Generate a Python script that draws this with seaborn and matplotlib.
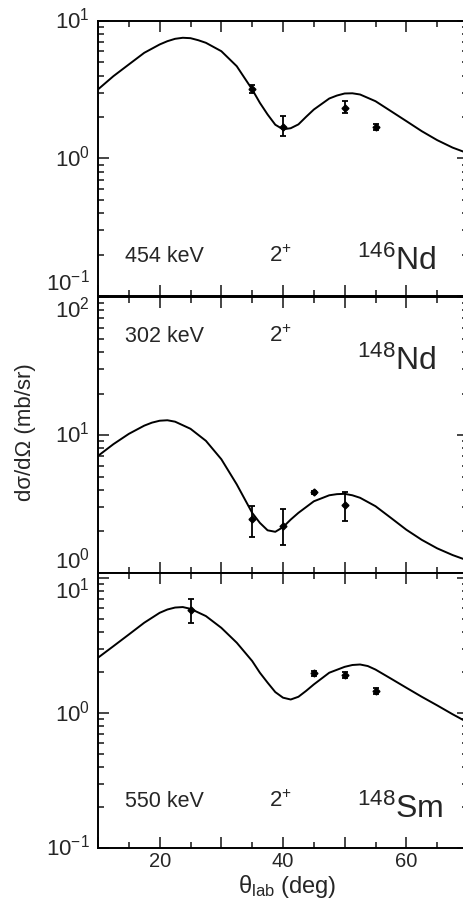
import numpy as np
import pandas as pd
import seaborn as sns
import matplotlib
matplotlib.use("Agg")
from matplotlib import pyplot as plt
from matplotlib.ticker import LogLocator, MultipleLocator, NullFormatter, FuncFormatter

### data ###
# theoretical curves (deg, mb/sr)
nd146_ct = [10, 12.5, 15, 17.5, 20, 21.25, 22.5, 23.75, 25, 26.25, 27.5, 30, 32.5, 33.75, 35,
            36.25, 37.5, 38.75, 40, 41.25, 42.5, 43.75, 45, 47.5, 48.75, 50, 51.25, 52.5,
            55, 57.5, 60, 62.5, 65, 67.5, 70]
nd146_cv = [3.18, 3.97, 4.83, 5.87, 6.75, 7.13, 7.42, 7.55, 7.50, 7.25, 6.94, 6.03, 4.69, 3.86, 3.18,
            2.54, 2.09, 1.76, 1.63, 1.66, 1.77, 2.01, 2.27, 2.73, 2.87, 2.97, 2.98, 2.92,
            2.61, 2.21, 1.87, 1.58, 1.36, 1.20, 1.09]

nd148_ct = [10, 12.5, 15, 17.5, 18.75, 20, 21.25, 22.5, 25, 27.5, 30, 32.5, 35, 36.25,
            37.5, 38.75, 40, 41.25, 42.5, 45, 47.5, 48.75, 50, 51.25, 52.5, 55, 57.5,
            60, 62.5, 65, 67.5, 70]
nd148_cv = [7.06, 8.59, 10.2, 11.7, 12.3, 12.7, 12.8, 12.5, 11.1, 9.08, 6.68, 4.39, 2.73, 2.31,
            2.04, 1.99, 2.15, 2.44, 2.73, 3.31, 3.66, 3.73, 3.75, 3.66, 3.51, 3.05, 2.51,
            2.06, 1.74, 1.51, 1.35, 1.23]

sm148_ct = [10, 12.5, 15, 17.5, 20, 21.25, 22.5, 23.75, 25, 27.5, 30, 32.5, 35, 36.25,
            37.5, 38.75, 40, 41.25, 42.5, 43.75, 45, 47.5, 50, 51.25, 52.5, 53.75, 55,
            57.5, 60, 62.5, 65, 67.5, 70]
sm148_cv = [2.57, 3.13, 3.82, 4.67, 5.53, 5.85, 6.05, 6.10, 5.92, 5.23, 4.28, 3.32, 2.43, 1.99,
            1.68, 1.43, 1.30, 1.26, 1.32, 1.46, 1.63, 1.99, 2.20, 2.27, 2.29, 2.23, 2.10,
            1.80, 1.54, 1.32, 1.14, 0.98, 0.85]

# measured points with error bars
nd146_theta = [35, 40, 50, 55]
nd146_val = [3.18, 1.70, 2.34, 1.70]
nd146_lo = [2.97, 1.45, 2.15, 1.61]
nd146_hi = [3.41, 2.03, 2.61, 1.77]

nd148_theta = [35, 40, 45, 50]
nd148_val = [2.48, 2.20, 3.86, 3.13]
nd148_lo = [1.82, 1.60, 3.76, 2.37]
nd148_hi = [3.08, 2.92, 3.96, 3.86]

sm148_theta = [25, 45, 50, 55]
sm148_val = [5.79, 1.97, 1.91, 1.46]
sm148_lo = [4.67, 1.88, 1.82, 1.38]
sm148_hi = [7.03, 2.05, 2.00, 1.54]

panels = [
    dict(ct=nd146_ct, cv=nd146_cv, theta=nd146_theta, val=nd146_val, lo=nd146_lo, hi=nd146_hi,
         ylim=(0.1, 10), energy="454 keV", nucleus="146", symbol="Nd",
         text_y=0.124, nuc_y=0.095, ticks=[0.1, 1, 10],
         labels=[r"$\mathregular{10^{-1}}$", r"$\mathregular{10^{0}}$", r"$\mathregular{10^{1}}$"],
         va=["bottom", "center", "center"],
         box=(0.6715, 0.3052)),
    dict(ct=nd148_ct, cv=nd148_cv, theta=nd148_theta, val=nd148_val, lo=nd148_lo, hi=nd148_hi,
         ylim=(1, 100), energy="302 keV", nucleus="148", symbol="Nd",
         text_y=0.838, nuc_y=0.7355, ticks=[1, 10, 100],
         labels=[r"$\mathregular{10^{0}}$", r"$\mathregular{10^{1}}$", r"$\mathregular{10^{2}}$"],
         va=["bottom", "center", "top"],
         box=(0.364, 0.3063)),
    dict(ct=sm148_ct, cv=sm148_cv, theta=sm148_theta, val=sm148_val, lo=sm148_lo, hi=sm148_hi,
         ylim=(0.1, 10.9), energy="550 keV", nucleus="148", symbol="Sm",
         text_y=0.150, nuc_y=0.108, ticks=[0.1, 1, 10],
         labels=[r"$\mathregular{10^{-1}}$", r"$\mathregular{10^{0}}$", r"$\mathregular{10^{1}}$"],
         va=["center", "center", "top"],
         box=(0.0588, 0.3052)),
]

sns.set_style("ticks")
plt.rcParams['font.family'] = ['Liberation Sans', 'DejaVu Sans']
plt.rcParams['mathtext.fontset'] = 'custom'
plt.rcParams['mathtext.rm'] = 'Liberation Sans'
plt.rcParams['mathtext.it'] = 'Liberation Sans:italic'

fig = plt.figure(figsize=(4.63, 9.01), dpi=100)

left, width = 98 / 463, 370 / 463
for i, p in enumerate(panels):
    ax = fig.add_axes([left, p["box"][0], width, p["box"][1]])

    df = pd.DataFrame({"theta": p["ct"], "xs": p["cv"]})
    sns.lineplot(data=df, x="theta", y="xs", ax=ax, color="black", lw=1.4)

    yerr = [np.array(p["val"]) - np.array(p["lo"]), np.array(p["hi"]) - np.array(p["val"])]
    ax.errorbar(p["theta"], p["val"], yerr=yerr, fmt="D", color="black", ms=3.5,
                elinewidth=1.3, capsize=2.5, capthick=1.3)

    ax.set_yscale("log")
    ax.set_xlim(10, 70)
    ax.set_ylim(*p["ylim"])
    ax.set_xlabel("")
    ax.set_ylabel("")

    ax.xaxis.set_major_locator(MultipleLocator(10))
    ax.xaxis.set_minor_locator(MultipleLocator(5))
    ax.xaxis.set_major_formatter(FuncFormatter(lambda v, pos: "%d" % v if v in (20, 40, 60) else ""))
    ax.set_yticks(p["ticks"])
    ax.set_yticklabels(p["labels"])
    ax.yaxis.set_minor_locator(LogLocator(base=10, subs=np.arange(2, 10)))
    ax.yaxis.set_minor_formatter(NullFormatter())
    for lab, va in zip(ax.get_yticklabels(), p["va"]):
        lab.set_va(va)

    ax.tick_params(which="both", direction="in", top=True, right=True, width=1.2)
    ax.tick_params(which="major", length=8, pad=6)
    ax.tick_params(axis="y", labelsize=16)
    ax.tick_params(axis="x", labelsize=14.5, pad=3)
    ax.tick_params(which="minor", length=4.5)
    if i < 2:
        ax.tick_params(axis="x", labelbottom=False)
    for s in ax.spines.values():
        s.set_linewidth(1.4)
        s.set_color("black")

    ax.text(0.073, p["text_y"], p["energy"], transform=ax.transAxes, fontsize=15.5,
            ha="left", va="baseline")
    ax.text(0.462, p["text_y"], r"2$\mathregular{^{+}}$", transform=ax.transAxes, fontsize=16,
            ha="left", va="baseline")
    ax.text(0.70, p["nuc_y"], r"$\mathregular{^{%s}}$%s" % (p["nucleus"], p["symbol"]),
            transform=ax.transAxes, fontsize=23, ha="left", va="baseline")

fig.text(25 / 463, 1 - 432 / 901, "dσ/dΩ (mb/sr)", rotation=90, fontsize=16,
         ha="center", va="center")
fig.text(287 / 463, 1 - 893 / 901, r"θ$\mathregular{_{lab}}$ (deg)", fontsize=17,
         ha="center", va="baseline")

plt.savefig("out.png", dpi=100)
